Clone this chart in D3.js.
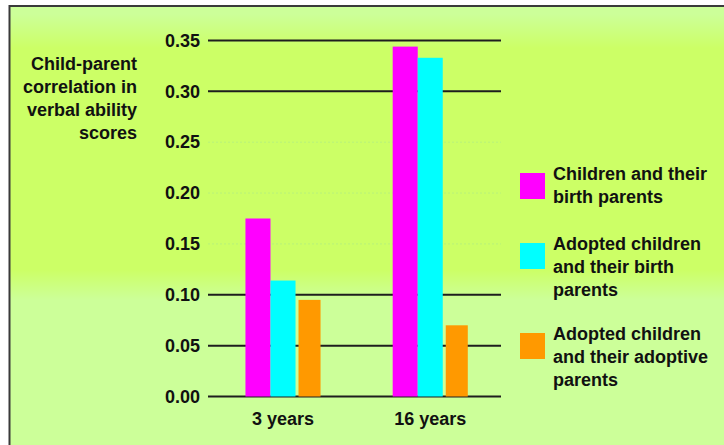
<!DOCTYPE html>
<html>
<head>
<meta charset="utf-8">
<script src="https://cdn.jsdelivr.net/npm/d3@7"></script>
<style>
  html, body { margin: 0; padding: 0; background: #ffffff; }
  svg { display: block; }
  text { font-family: "Liberation Sans", Arial, sans-serif; font-weight: bold; fill: #111; }
</style>
</head>
<body>
<script>
// categories and series
const groups = ['3 years', '16 years'];
const seriesNames = [
  ['Children and their', 'birth parents'],
  ['Adopted children', 'and their birth', 'parents'],
  ['Adopted children', 'and their adoptive', 'parents']
];
const birthParents = [0.175, 0.344];
const adoptedBirthParents = [0.114, 0.333];
const adoptedAdoptiveParents = [0.095, 0.070];
const yTicks = [0, 0.05, 0.10, 0.15, 0.20, 0.25, 0.30, 0.35];
const faintTicks = [0.15, 0.20, 0.25];
const yTitle = ['Child-parent', 'correlation in', 'verbal ability', 'scores'];

const colors = ['#ff00ff', '#00ffff', '#ff9900'];
const series = [birthParents, adoptedBirthParents, adoptedAdoptiveParents];

const width = 724, height = 445;
const plot = {left: 208, right: 501, top: 40.5, bottom: 396.5};

const svg = d3.select('body').append('svg')
  .attr('width', width)
  .attr('height', height);

// background with the two green bands
const defs = svg.append('defs');
const grad = defs.append('linearGradient')
  .attr('id', 'bg')
  .attr('gradientUnits', 'userSpaceOnUse')
  .attr('x1', 0).attr('y1', 6).attr('x2', 0).attr('y2', height);
[[6, '#ccff99'], [14, '#ccff99'], [48, '#ccff66'], [270, '#ccff66'], [300, '#ccff99'], [445, '#ccff99']]
  .forEach(s => grad.append('stop').attr('offset', (s[0] - 6) / (height - 6)).attr('stop-color', s[1]));

svg.append('rect')
  .attr('x', 10).attr('y', 6)
  .attr('width', width - 10).attr('height', height - 6)
  .attr('fill', 'url(#bg)');

// frame (only top and left visible)
svg.append('path')
  .attr('d', `M9.5,${height} V6 H${width}`)
  .attr('fill', 'none')
  .attr('stroke', '#3a3a3a')
  .attr('stroke-width', 2);

// scales
const yScale = d3.scaleLinear().domain([0, 0.35]).range([plot.bottom, plot.top]);
const xScale = d3.scaleBand().domain(groups)
  .range([plot.left, plot.right])
  .paddingInner(0.49).paddingOuter(0.24).align(0.53);
const xSub = d3.scaleBand().domain([0, 1, 2]).range([0, xScale.bandwidth()]);

// gridlines
svg.append('g')
  .selectAll('line')
  .data(yTicks)
  .join('line')
  .attr('x1', plot.left).attr('x2', plot.right)
  .attr('y1', d => yScale(d)).attr('y2', d => yScale(d))
  .attr('stroke', d => faintTicks.includes(d) ? '#b8f27a' : '#1e1e1e')
  .attr('stroke-dasharray', d => faintTicks.includes(d) ? '2,2' : null)
  .attr('stroke-width', d => faintTicks.includes(d) ? 1 : 2);

// bars
const barData = [];
groups.forEach((g, gi) => series.forEach((s, si) => barData.push({group: g, s: si, value: s[gi]})));

svg.append('g')
  .selectAll('rect')
  .data(barData)
  .join('rect')
  .attr('x', d => xScale(d.group) + xSub(d.s) + (d.s === 2 ? 3 : 0))
  .attr('width', d => xSub.bandwidth() - (d.s === 2 ? 3 : 0))
  .attr('y', d => yScale(d.value))
  .attr('height', d => yScale(0) - yScale(d.value))
  .attr('fill', d => colors[d.s]);

// y axis labels
const yAxis = d3.axisLeft(yScale).tickValues(yTicks).tickFormat(d3.format('.2f')).tickSize(0).tickPadding(8);
svg.append('g')
  .attr('transform', `translate(${plot.left},0)`)
  .call(yAxis)
  .call(g => g.select('.domain').remove())
  .selectAll('text')
  .style('font-size', '18px')
  .style('font-family', '"Liberation Sans", Arial, sans-serif')
  .style('font-weight', 'bold')
  .attr('fill', '#111');

// x axis labels
const xAxis = d3.axisBottom(xScale).tickSize(0).tickPadding(16);
svg.append('g')
  .attr('transform', `translate(0,${plot.bottom})`)
  .call(xAxis)
  .call(g => g.select('.domain').remove())
  .selectAll('text')
  .style('font-size', '18px')
  .style('font-family', '"Liberation Sans", Arial, sans-serif')
  .style('font-weight', 'bold')
  .attr('fill', '#111');

// y title
svg.append('text')
  .attr('text-anchor', 'end')
  .attr('font-size', 18)
  .selectAll('tspan')
  .data(yTitle)
  .join('tspan')
  .attr('x', 137)
  .attr('y', (d, i) => 70 + i * 23)
  .text(d => d);

// legend
const legendTop = [167, 237, 327];
const legend = svg.append('g');
seriesNames.forEach((lines, i) => {
  legend.append('rect')
    .attr('x', 520).attr('y', legendTop[i] + (lines.length === 2 ? 6 : 6))
    .attr('width', 25).attr('height', 26)
    .attr('fill', colors[i]);
  legend.append('text')
    .attr('font-size', 18)
    .selectAll('tspan')
    .data(lines)
    .join('tspan')
    .attr('x', 553)
    .attr('y', (d, j) => legendTop[i] + 13 + j * 23)
    .text(d => d);
});
</script>
</body>
</html>
